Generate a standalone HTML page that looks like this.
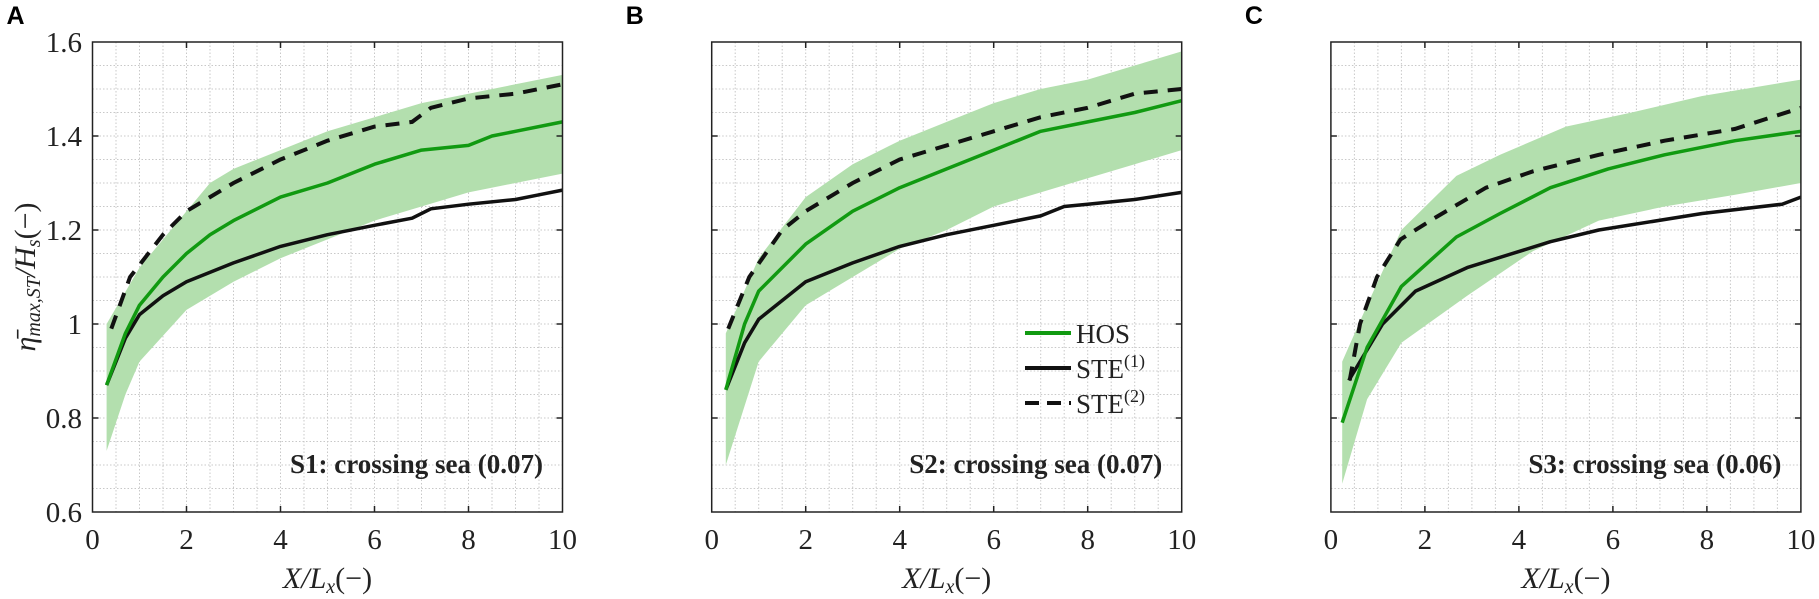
<!DOCTYPE html>
<html><head><meta charset="utf-8"><style>
html,body{margin:0;padding:0;background:#fff;}
svg{display:block;}
svg text{font-family:"Liberation Serif","DejaVu Serif",serif;}
svg text.sans{font-family:"Liberation Sans",sans-serif;}
</style></head><body>
<svg id="s" width="1819" height="599" xmlns="http://www.w3.org/2000/svg"></svg>
<script>
const NS="http://www.w3.org/2000/svg";
const svg=document.getElementById('s');
function el(t,a,txt){const e=document.createElementNS(NS,t);for(const k in a)e.setAttribute(k,a[k]);if(txt!==undefined)e.textContent=txt;svg.appendChild(e);return e;}
function sp(parent,txt,attrs){const t=document.createElementNS(NS,'tspan');t.textContent=txt;for(const k in attrs)t.setAttribute(k,attrs[k]);parent.appendChild(t);return t;}
const T=42,B=512,H=470,W=470;
const panels=[
{x0:92.5,L:"A",label:"S1: crossing sea (0.07)",
hos:[[0.3,0.87],[0.7,0.98],[1,1.04],[1.5,1.10],[2,1.15],[2.5,1.19],[3,1.22],[4,1.27],[5,1.30],[6,1.34],[7,1.37],[8,1.38],[8.5,1.40],[9,1.41],[10,1.43]],
s1:[[0.3,0.87],[0.7,0.97],[1,1.02],[1.5,1.06],[2,1.09],[3,1.13],[4,1.165],[5,1.19],[6,1.21],[6.8,1.225],[7.2,1.245],[8,1.255],[9,1.265],[9.5,1.275],[10,1.285]],
s2:[[0.4,0.99],[0.8,1.10],[1.5,1.19],[2,1.24],[3,1.30],[4,1.35],[5,1.39],[6,1.42],[6.8,1.43],[7.2,1.46],[8,1.48],[9,1.49],[10,1.51]],
up:[[0.3,1.0],[1,1.12],[2,1.24],[2.5,1.30],[3,1.33],[4,1.37],[5,1.41],[6,1.44],[7,1.47],[8,1.49],[9,1.51],[10,1.53]],
lo:[[0.3,0.73],[0.7,0.85],[1,0.92],[2,1.03],[3,1.09],[4,1.14],[5,1.18],[6,1.22],[7,1.25],[8,1.28],[9,1.30],[10,1.32]]},
{x0:711.7,L:"B",label:"S2: crossing sea (0.07)",
hos:[[0.3,0.86],[0.7,1.0],[1,1.07],[2,1.17],[3,1.24],[4,1.29],[5,1.33],[6,1.37],[7,1.41],[8,1.43],[9,1.45],[10,1.475]],
s1:[[0.3,0.86],[0.7,0.96],[1,1.01],[2,1.09],[3,1.13],[4,1.165],[5,1.19],[6,1.21],[7,1.23],[7.5,1.25],[8,1.255],[9,1.265],[10,1.28]],
s2:[[0.35,0.99],[0.8,1.10],[1.5,1.20],[2,1.24],[3,1.30],[4,1.35],[5,1.38],[6,1.41],[7,1.44],[8,1.46],[9,1.49],[10,1.50]],
up:[[0.3,0.98],[1,1.14],[2,1.27],[3,1.34],[4,1.39],[5,1.43],[6,1.47],[7,1.50],[8,1.52],[9,1.55],[10,1.58]],
lo:[[0.3,0.70],[1,0.92],[2,1.04],[3,1.10],[4,1.16],[5,1.20],[6,1.25],[7,1.28],[8,1.31],[9,1.34],[10,1.37]]},
{x0:1330.9,L:"C",label:"S3: crossing sea (0.06)",
hos:[[0.24,0.79],[0.77,0.95],[1.5,1.08],[2.67,1.185],[3.6,1.235],[4.67,1.29],[5.9,1.33],[7.1,1.36],[8.6,1.39],[10,1.41]],
s1:[[0.38,0.88],[1.1,1.0],[1.8,1.07],[2.9,1.12],[4.67,1.175],[5.7,1.2],[7.9,1.235],[9.6,1.255],[10,1.27]],
s2:[[0.4,0.88],[0.62,1.0],[0.98,1.1],[1.48,1.18],[2.2,1.225],[3.3,1.29],[4.3,1.325],[5.7,1.36],[7.1,1.39],[8.6,1.415],[10,1.46]],
up:[[0.24,0.92],[0.77,1.04],[1.5,1.2],[2.67,1.315],[3.6,1.36],[5,1.42],[6.4,1.45],[7.9,1.485],[10,1.52]],
lo:[[0.24,0.66],[0.77,0.84],[1.5,0.96],[2.9,1.06],[4.3,1.155],[5.7,1.22],[7.1,1.25],[8.6,1.275],[10,1.30]]}
];
panels.forEach((p,i)=>{
 const X=v=>p.x0+v*W/10, Y=v=>B-(v-0.6)*H;
 const pts=a=>a.map(q=>X(q[0]).toFixed(1)+","+Y(q[1]).toFixed(1)).join(" ");
 for(let k=1;k<20;k++){const x=X(k*0.5);el('line',{x1:x,y1:T,x2:x,y2:B,stroke:'#c8c8c8','stroke-width':1,'stroke-dasharray':'1.5,2'});}
 for(let k=1;k<20;k++){const y=Y(0.6+k*0.05);el('line',{x1:p.x0,y1:y,x2:p.x0+W,y2:y,stroke:'#c8c8c8','stroke-width':1,'stroke-dasharray':'1.5,2'});}
 el('polygon',{points:pts(p.up)+" "+pts(p.lo.slice().reverse()),fill:'#b3dfae'});
 el('polyline',{points:pts(p.s1),fill:'none',stroke:'#111','stroke-width':3.5,'stroke-linejoin':'round'});
 el('polyline',{points:pts(p.s2),fill:'none',stroke:'#111','stroke-width':4,'stroke-dasharray':'14,10'});
 el('polyline',{points:pts(p.hos),fill:'none',stroke:'#119a11','stroke-width':3.5,'stroke-linejoin':'round'});
 el('rect',{x:p.x0,y:T,width:W,height:H,fill:'none',stroke:'#222','stroke-width':1.5});
 for(let k=1;k<5;k++){const x=X(k*2);el('line',{x1:x,y1:B,x2:x,y2:B-6,stroke:'#222','stroke-width':1.5});el('line',{x1:x,y1:T,x2:x,y2:T+6,stroke:'#222','stroke-width':1.5});}
 for(let k=1;k<5;k++){const y=Y(0.6+k*0.2);el('line',{x1:p.x0,y1:y,x2:p.x0+6,y2:y,stroke:'#222','stroke-width':1.5});el('line',{x1:p.x0+W,y1:y,x2:p.x0+W-6,y2:y,stroke:'#222','stroke-width':1.5});}
 for(let k=0;k<=5;k++){el('text',{x:X(k*2),y:549,'font-size':29,'text-anchor':'middle',fill:'#222'},String(k*2));}
 const xl=el('text',{x:p.x0+W/2,y:588,'font-size':30,'text-anchor':'middle',fill:'#222','font-style':'italic'});
 sp(xl,'X/L');sp(xl,'x',{'font-size':20,dy:5});sp(xl,'(−)',{dy:-5,'font-style':'normal'});
 el('text',{x:X(9.5)+4,y:473,'font-size':27,'font-weight':'bold','text-anchor':'end',fill:'#222'},p.label);
 el('text',{x:p.x0-86,y:24,'font-size':25,'font-weight':'bold','class':'sans',fill:'#000'},p.L);
 if(i==0){
  ['0.6','0.8','1','1.2','1.4','1.6'].forEach((s,k)=>el('text',{x:82,y:Y(0.6+k*0.2)+10,'font-size':29,'text-anchor':'end',fill:'#222'},s));
  const yl=el('text',{x:0,y:0,'font-size':30,'text-anchor':'middle',fill:'#222','font-style':'italic',transform:'translate(35,277) rotate(-90)'});
  sp(yl,'η̄');sp(yl,'max,ST',{'font-size':20,dy:5});sp(yl,'/H',{dy:-5});sp(yl,'s',{'font-size':20,dy:5});sp(yl,'(−)',{dy:-5,'font-style':'normal'});
 }
 if(i==1){
  el('line',{x1:1025,y1:333,x2:1071,y2:333,stroke:'#119a11','stroke-width':4});
  el('line',{x1:1025,y1:368,x2:1071,y2:368,stroke:'#111','stroke-width':4});
  el('line',{x1:1025,y1:403,x2:1071,y2:403,stroke:'#111','stroke-width':4,'stroke-dasharray':'14,8'});
  el('text',{x:1076,y:343,'font-size':27,fill:'#222'},'HOS');
  const s1=el('text',{x:1076,y:378,'font-size':27,fill:'#222'},'STE');sp(s1,'(1)',{'font-size':18,dy:-11});
  const s2=el('text',{x:1076,y:413,'font-size':27,fill:'#222'},'STE');sp(s2,'(2)',{'font-size':18,dy:-11});
 }
});
</script>
</body></html>
